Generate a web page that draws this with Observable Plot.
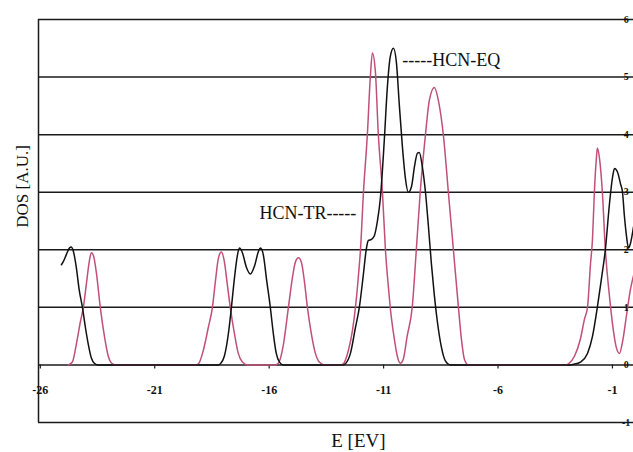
<!DOCTYPE html>
<html>
<head>
<meta charset="utf-8">
<script src="https://cdn.jsdelivr.net/npm/d3@7"></script>
<script src="https://cdn.jsdelivr.net/npm/@observablehq/plot@0.6"></script>
<style>
  html, body { margin: 0; padding: 0; background: #fff; }
  svg { display: block; }
</style>
</head>
<body>
<div id="chart"></div>
<script>
// HCN-EQ (black) density of states: [E, DOS]
const eqE = [-25.08,-24.99,-24.86,-24.73,-24.65,-24.56,-24.43,-24.30,-24.16,-24.03,-23.90,-23.77,-23.64,-23.46,
  -18.22,-18.13,-17.96,-17.78,-17.65,-17.52,-17.39,-17.30,-17.17,-17.00,-16.82,-16.64,-16.47,-16.38,-16.25,-16.12,-15.95,-15.82,-15.69,-15.55,-15.38,
  -12.76,-12.67,-12.45,-12.23,-12.06,-11.89,-11.76,-11.67,-11.53,-11.40,-11.27,-11.14,-10.97,-10.84,-10.71,-10.57,-10.44,-10.31,-10.18,-10.05,-9.92,-9.78,-9.65,-9.52,-9.44,-9.31,-9.17,-9.04,-8.91,-8.78,-8.65,-8.47,-8.30,-8.08,
  -2.84,-2.70,-2.40,-2.09,-1.87,-1.66,-1.48,-1.31,-1.13,-1.00,-0.91,-0.78,-0.65,-0.56,-0.48,-0.39,-0.30,-0.22,-0.08];
const eqDOS = [1.74,1.80,1.92,2.03,2.05,1.98,1.70,1.30,1.00,0.65,0.35,0.12,0.03,0,
  0,0.02,0.15,0.55,1.00,1.50,1.90,2.03,1.95,1.70,1.58,1.72,1.97,2.03,1.90,1.50,1.00,0.55,0.20,0.05,0,
  0,0.02,0.20,0.65,1.00,1.55,2.00,2.16,2.18,2.25,2.50,2.90,3.90,4.80,5.35,5.50,5.25,4.50,3.80,3.25,3.00,3.10,3.45,3.68,3.69,3.45,3.00,2.40,1.75,1.20,0.75,0.30,0.07,0,
  0,0.01,0.05,0.20,0.50,1.00,1.50,2.00,2.80,3.25,3.41,3.35,3.15,3.00,2.60,2.25,2.03,2.10,2.40];

// HCN-TR (pink) density of states: [E, DOS]
const trE = [-24.78,-24.60,-24.43,-24.25,-24.12,-23.99,-23.86,-23.77,-23.68,-23.55,-23.38,-23.20,-23.03,-22.85,-22.68,
  -19.23,-19.09,-18.88,-18.66,-18.48,-18.35,-18.22,-18.09,-17.96,-17.83,-17.70,-17.52,-17.35,-17.17,-16.95,
  -15.77,-15.60,-15.38,-15.16,-14.99,-14.86,-14.72,-14.59,-14.46,-14.33,-14.16,-13.98,-13.81,-13.59,
  -12.89,-12.76,-12.54,-12.36,-12.23,-12.10,-12.01,-11.88,-11.71,-11.58,-11.49,-11.36,-11.23,-11.05,-10.92,-10.79,-10.71,-10.53,-10.40,-10.27,-10.14,-9.97,-9.75,-9.57,-9.40,-9.17,-9.00,-8.78,-8.61,-8.39,-8.17,-7.95,-7.73,-7.60,-7.47,-7.29,
  -3.05,-2.92,-2.66,-2.40,-2.22,-2.09,-1.96,-1.87,-1.79,-1.70,-1.66,-1.57,-1.44,-1.31,-1.17,-1.08,-0.96,-0.83,-0.69,-0.56,-0.39,-0.22,-0.08];
const trDOS = [0,0.05,0.35,0.75,1.00,1.40,1.80,1.95,1.90,1.60,1.00,0.50,0.15,0.02,0,
  0,0.02,0.25,0.65,1.00,1.45,1.85,1.96,1.80,1.40,1.00,0.55,0.20,0.05,0,
  0,0.03,0.35,1.00,1.50,1.78,1.86,1.78,1.45,1.00,0.55,0.20,0.05,0,
  0,0.02,0.25,0.60,1.00,1.55,2.00,3.00,4.00,5.00,5.42,5.10,4.00,3.00,2.00,1.35,1.00,0.45,0.15,0.03,0.10,0.50,1.00,2.00,3.00,4.00,4.60,4.82,4.60,4.00,3.00,2.00,1.00,0.45,0.10,0,
  0,0.02,0.15,0.45,0.80,1.00,1.75,2.20,3.00,3.60,3.77,3.60,3.00,2.00,1.35,1.00,0.60,0.30,0.20,0.40,0.85,1.30,1.55];

const xTicks = [-26, -21, -16, -11, -6, -1];
const yTicks = [-1, 0, 1, 2, 3, 4, 5, 6];
const xLabel = "E [EV]";
const yLabel = "DOS [A.U.]";
const eqLabel = "-----HCN-EQ";
const trLabel = "HCN-TR-----";

const eq = eqE.map((e, i) => ({E: e, DOS: eqDOS[i]}));
const tr = trE.map((e, i) => ({E: e, DOS: trDOS[i]}));

const serif = "'Liberation Serif', 'Times New Roman', serif";
const minus = d => String(d).replace("\u2212", "-");

const chart = Plot.plot({
  width: 633,
  height: 452,
  marginLeft: 38,
  marginRight: 0,
  marginTop: 19,
  marginBottom: 30,
  style: {fontFamily: serif, background: "#fff", color: "#111"},
  x: {domain: [-26.08, -0.08], axis: null},
  y: {domain: [-1, 6], axis: null},
  marks: [
    Plot.ruleY(yTicks, {stroke: "#1a1a1a", strokeWidth: 1.5}),
    Plot.ruleX([-26.08], {y1: -1, y2: 6, stroke: "#1a1a1a", strokeWidth: 1.5}),
    Plot.ruleX(xTicks, {x: d => d, y1: 0, y2: -0.07, stroke: "#1a1a1a", strokeWidth: 1.2}),
    Plot.line(tr, {x: "E", y: "DOS", stroke: "#c0507a", strokeWidth: 1.5, curve: "monotone-x"}),
    Plot.line(eq, {x: "E", y: "DOS", stroke: "#111", strokeWidth: 1.5, curve: "monotone-x"}),
    Plot.text(xTicks, {x: d => d, y: -0.43, text: minus, fontSize: 12, fontWeight: "bold", fontFamily: serif, fill: "#111"}),
    Plot.text(yTicks, {x: -0.4, y: d => d, text: minus, fontSize: 10, fontWeight: "bold", fontFamily: serif, fill: "#111", textAnchor: "middle"}),
    Plot.text([eqLabel], {x: -10.18, y: 5.29, text: d => d, textAnchor: "start", fontSize: 18, fontFamily: serif, fill: "#111"}),
    Plot.text([trLabel], {x: -12.19, y: 2.64, text: d => d, textAnchor: "end", fontSize: 18, fontFamily: serif, fill: "#111"}),
    Plot.text([xLabel], {x: -12.1, y: -1, dy: 18, text: d => d, fontSize: 19, fontFamily: serif, fill: "#111"}),
    Plot.text([yLabel], {x: -26.08, dx: -16, y: 3.1, rotate: -90, text: d => d, fontSize: 17, fontFamily: serif, fill: "#111"})
  ]
});
document.getElementById("chart").appendChild(chart);
</script>
</body>
</html>
